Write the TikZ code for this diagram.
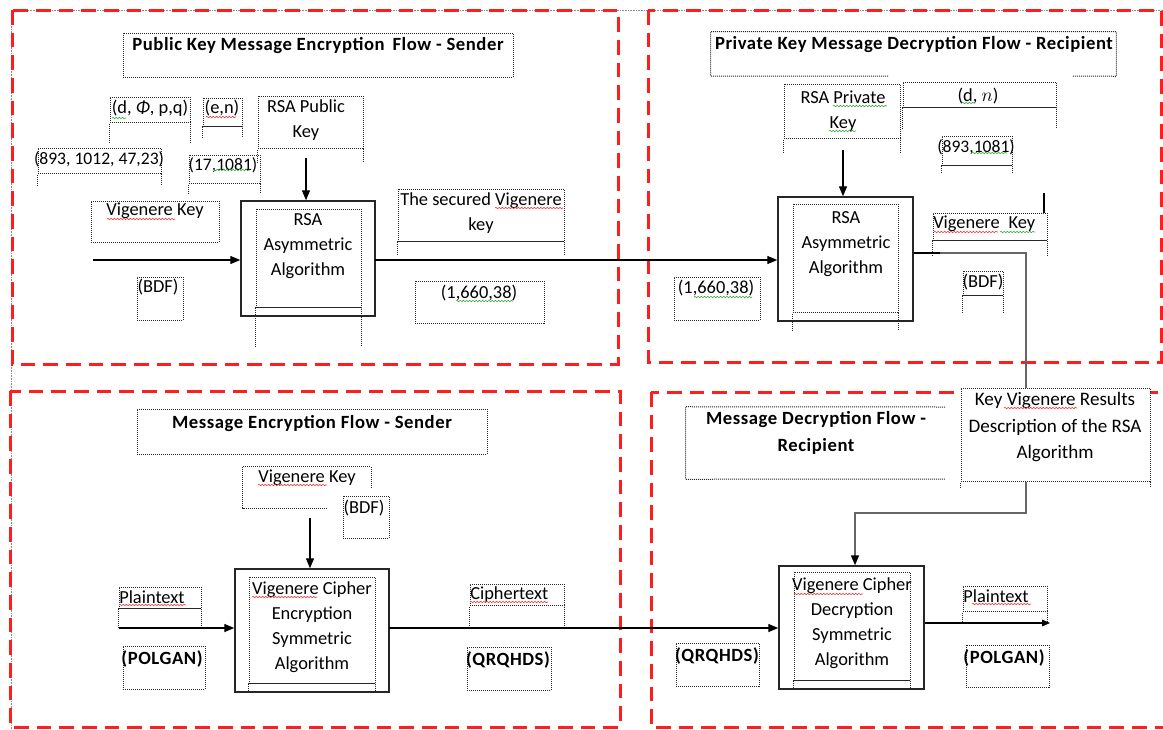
\documentclass[tikz,border=0pt]{standalone}
\usepackage{fontspec}
\setmainfont{Carlito}
\newfontfamily\titlefont[LetterSpace=3]{Carlito}
\usetikzlibrary{fit,arrows.meta,calc,decorations.pathmorphing}
\newcommand\tailU[2]{\draw[dotline] ($(#1.south west)+(0,#2)$) -- (#1.south west) -- (#1.south east) -- ($(#1.south east)+(0,#2)$);}
\begin{document}
\begin{tikzpicture}[x=0.75pt,y=-0.75pt,
  redbox/.style={draw={rgb,255:red,255;green,30;blue,30}, line width=2.25pt, dash pattern=on 11pt off 6pt},
  dotline/.style={draw=black!85, line width=0.75pt, dash pattern=on 0.75pt off 0.75pt},
  dotbox/.style={dotline, inner sep=0pt, rectangle},
  hid/.style={inner sep=0pt, rectangle},
  solidbox/.style={draw=black!85, line width=1.1pt, inner sep=0pt, rectangle},
  txt/.style={inner sep=0pt, anchor=north, align=center, font=\fontsize{13.8pt}{18.8pt}\selectfont},
  smtxt/.style={inner sep=0pt, anchor=north, align=center, font=\fontsize{13.2pt}{18.8pt}\selectfont},
  bigtxt/.style={inner sep=0pt, anchor=north, align=center, font=\fontsize{14.3pt}{20pt}\selectfont},
  btxt/.style={inner sep=0pt, anchor=north, align=center, font=\titlefont\fontsize{14pt}{20pt}\selectfont\bfseries},
  arr/.style={draw=black, line width=1pt, -{Triangle[length=7.5pt,width=6pt]}},
  gline/.style={draw=black!60, line width=1.1pt},
  garr/.style={draw=black!60, line width=1.1pt, -{Triangle[length=7.5pt,width=6pt,fill=black,color=black]}},
  sqr/.style={draw={rgb,255:red,235;green,60;blue,60}, line width=0.45pt, decorate, decoration={snake, amplitude=0.55pt, segment length=2.4pt}},
  sqg/.style={draw={rgb,255:red,60;green,170;blue,60}, line width=0.45pt, decorate, decoration={snake, amplitude=0.55pt, segment length=2.4pt}}
]
\useasboundingbox (0,0) rectangle (1163,729);
% page frame
\draw[draw=black!45, line width=0.6pt, dash pattern=on 0.6pt off 0.6pt] (11,729) -- (11,10) -- (1163,10);
% quadrants
\draw[redbox] (12,10) rectangle (618,364);
\draw[redbox] (648,10) rectangle (1161,362);
\draw[redbox] (10,391) rectangle (620,727);
\draw[redbox] (651,392) rectangle (1170,727);

% ===== Top-left =====
\node[dotbox, fit={(123,33)(513,77)}] (title1) {};
\node[btxt] (t1) at (318,37) {Public Key Message Encryption\, Flow - Sender};

\node[dotbox, fit={(110,97)(190,122)}] (bdphi) {};
\tailU{bdphi}{20}
\node[txt] (tdphi) at (150,100) {(d, \textit{Φ}, p,q)};

\node[dotbox, fit={(203,98)(242,126)}] (ben) {};
\tailU{ben}{11}
\node[txt] (ten) at (222,100) {(e,n)};

\node[dotbox, fit={(258,96)(363,148)}] (bpub) {};
\tailU{bpub}{14}
\node[txt] (tpub) at (306,99) {RSA Public\\Key};

\node[dotbox, fit={(38,148)(161,173)}] (b893) {};
\tailU{b893}{12}
\node[smtxt] (t893) at (99,151) {(893, 1012, 47,23)};

\node[dotbox, fit={(189,155)(260,183)}] (b17) {};
\tailU{b17}{10}
\node[smtxt] (t17) at (223,157) {(17,1081)};

\node[dotbox, fit={(91,201)(219,242)}] (bvk1) {};
\node[txt] (tvk1) at (155,203) {Vigenere Key};

\node[dotbox, fit={(137,277)(183,320)}] (bbdf1) {};
\node[txt] (tbdf1) at (158,279) {(BDF)};

\node[solidbox, fit={(241,201)(375,316)}] (rsa1) {};
\node[dotbox, fit={(256,209)(361,307)}] (rsa1in) {};
\tailU{rsa1in}{39}
\node[txt] (trsa1) at (308,213) {RSA\\Asymmetric\\Algorithm};

\node[dotbox, fit={(398,189)(564,241)}] (bsec) {};
\tailU{bsec}{13}
\node[txt] (tsec) at (481,192) {The secured Vigenere\\key};

\node[dotbox, fit={(415,281)(544,323)}] (b1660a) {};
\node[txt] (t1660a) at (479,285) {(1,660,38)};

% ===== Top-right =====
\node[hid, fit={(711,32)(1116,76)}] (title2) {};
\draw[dotline] (888,76) -| (title2.north west) -| (title2.south east) -- (1072,76);
\node[btxt] (t2) at (914,36) {Private Key Message Decryption Flow - Recipient};

\node[dotbox, fit={(784,84)(900,138)}] (bpriv) {};
\tailU{bpriv}{14}
\node[txt] (tpriv) at (843,91) {RSA Private\\Key};

\node[dotbox, fit={(903,82)(1056,107)}] (bdn) {};
\tailU{bdn}{21}
\node[txt] (tdn) at (978,88) {(d, $n$)};

\node[dotbox, fit={(942,136)(1012,165)}] (b893b) {};
\tailU{b893b}{7}
\node[smtxt] (t893b) at (976,139) {(893,1081)};

\node[solidbox, fit={(778,197)(913,321)}] (rsa2) {};
\node[dotbox, fit={(793,204)(898,312)}] (rsa2in) {};
\tailU{rsa2in}{18}
\node[txt] (trsa2) at (846,211) {RSA\\Asymmetric\\Algorithm};

\node[dotbox, fit={(674,277)(760,320)}] (b1660b) {};
\node[txt] (t1660b) at (716,280) {(1,660,38)};

\node[dotbox, fit={(933,213)(1047,240)}] (bvk2) {};
\tailU{bvk2}{15}
\node[txt, anchor=north west] (tvk2) at (933,216) {Vigenere\hspace{0.25em} Key};
\coordinate (cur1) at (1044,193);
\coordinate (cur2) at (1044,213);
\draw[line width=1.6pt] (cur1) -- (cur2);

\node[dotbox, fit={(963,271)(1003,295)}] (bbdf2) {};
\tailU{bbdf2}{17}
\node[txt] (tbdf2) at (983,274) {(BDF)};

% ===== Bottom-left =====
\node[dotbox, fit={(137,409)(487,454)}] (title3) {};
\node[btxt] (t3) at (312,415) {Message Encryption Flow - Sender};

\node[hid, fit={(243,467)(371,508)}] (bvk3) {};
\draw[dotline] (327,508) -| (bvk3.north west) -| (371,487);
\node[txt] (tvk3) at (307,470) {Vigenere Key};

\node[dotbox, fit={(343,496)(389,538)}] (bbdf3) {};
\node[txt] (tbdf3) at (364,500) {(BDF)};

\node[solidbox, fit={(235,569)(389,692)}] (vc1) {};
\node[dotbox, fit={(249,577)(375,683)}] (vc1in) {};
\tailU{vc1in}{9}
\node[txt] (tvc1) at (312,581) {Vigenere Cipher\\Encryption\\Symmetric\\Algorithm};

\node[dotbox, fit={(119,587)(201,608)}] (bpl1) {};
\tailU{bpl1}{19}
\node[txt, anchor=north west] (tpl1) at (119,590) {Plaintext};

\node[dotbox, fit={(123,646)(205,689)}] (bpol1) {};
\node[btxt] (tpol1) at (162,650) {(POLGAN)};

\node[dotbox, fit={(470,584)(564,605)}] (bcip) {};
\tailU{bcip}{22}
\node[txt, anchor=north west] (tcip) at (470,586) {Ciphertext};

\node[dotbox, fit={(467,647)(551,690)}] (bqrq1) {};
\node[btxt] (tqrq1) at (508,651) {(QRQHDS)};

% ===== Bottom-right =====
\node[hid, fit={(686,407)(945,479)}] (title4) {};
\draw[dotline] (945,407) -- (title4.north west) -- (title4.south west) -- (945,479);
\node[btxt] (t4) at (816,411) {Message Decryption Flow -\\Recipient};

\node[dotbox, fill=white, fit={(961,388)(1150,481)}] (keyres) {};
\tailU{keyres}{6}
\node[bigtxt] (tkeyres) at (1055,392) {Key Vigenere Results\\Description of the RSA\\Algorithm};

\node[solidbox, fit={(779,566)(924,689)}] (vc2) {};
\node[dotbox, fit={(794,572)(910,680)}] (vc2in) {};
\tailU{vc2in}{9}
\node[txt] (tvc2) at (852,577) {Vigenere Cipher\\Decryption\\Symmetric\\Algorithm};

\node[dotbox, fit={(676,643)(759,686)}] (bqrq2) {};
\node[btxt] (tqrq2) at (717,647) {(QRQHDS)};

\node[dotbox, fit={(963,586)(1047,611)}] (bpl2) {};
\tailU{bpl2}{12}
\node[txt, anchor=north west] (tpl2) at (963,589) {Plaintext};

\node[dotbox, fit={(966,645)(1049,687)}] (bpol2) {};
\node[btxt] (tpol2) at (1004,649) {(POLGAN)};

% ===== spell-check underlines =====
\draw[sqr] (107,219) -- (175,219);
\draw[sqr] (495,208) -- (563,208);
\draw[sqg] (456,301) -- (513,301);
\draw[sqg] (112,118) -- (126,118);
\draw[sqr] (206,117) -- (236,117);
\draw[sqg] (213,170) -- (250,170);
\draw[sqg] (833,106) -- (887,106);
\draw[sqg] (829,131) -- (856,131);
\draw[sqg] (962,103) -- (975,103);
\draw[sqg] (972,153) -- (1007,153);
\draw[sqg] (694,297) -- (752,297);
\draw[sqr] (934,232) -- (998,232);
\draw[sqg] (1000,232) -- (1035,232);
\draw[sqr] (258,485) -- (327,485);
\draw[sqr] (252,597) -- (317,597);
\draw[sqr] (119,605) -- (186,605);
\draw[sqr] (470,602) -- (548,602);
\draw[sqr] (1004,408) -- (1077,408);
\draw[sqr] (794,594) -- (863,594);
\draw[sqr] (972,604) -- (1031,604);

% ===== Connectors =====
\coordinate (in1) at (93,260);
\draw[arr] (in1) -- (in1 -| rsa1.west);
\coordinate (pk) at (306,158);
\draw[arr] (pk) -- (pk |- rsa1.north);
\coordinate (r1e) at (375,260);
\draw[arr] (r1e) -- (r1e -| rsa2.west);
\coordinate (prk) at (843,150);
\draw[arr] (prk) -- (prk |- rsa2.north);
\coordinate (k1) at (1026,253);
\coordinate (k2) at (1026,513);
\coordinate (k3) at (855,513);
\draw[line width=1.1pt] (k1 -| rsa2.east) -- (940,253);
\draw[gline] (940,253) -- (k1) -- (k1 |- keyres.north);
\draw[garr] (k1 |- keyres.south) -- (k2) -- (k3) -- (k3 |- vc2.north);
\coordinate (vk3s) at (310,518);
\draw[arr] (vk3s) -- (vk3s |- vc1.north);
\coordinate (pl1) at (119,628);
\draw[arr] (pl1) -- (pl1 -| vc1.west);
\coordinate (v1e) at (389,628);
\draw[arr] (v1e) -- (v1e -| vc2.west);
\coordinate (v2e) at (924,623);
\coordinate (outp) at (1050,623);
\draw[draw=black, line width=0.8pt, -{Triangle[length=6pt,width=5pt]}] (v2e -| vc2.east) -- (outp);
\end{tikzpicture}
\end{document}
